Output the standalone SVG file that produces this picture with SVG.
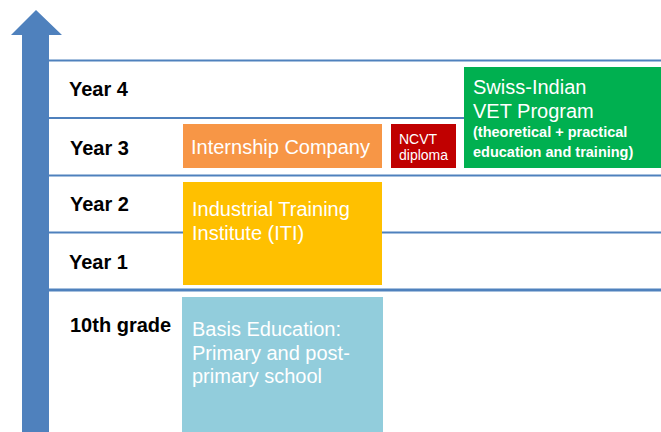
<svg xmlns="http://www.w3.org/2000/svg" width="661" height="432" viewBox="0 0 661 432">
<style>
.grid{stroke:#4F81BD;stroke-width:2;fill:none}
.lbl{font-family:"Liberation Sans",Arial,sans-serif;font-weight:bold;font-size:20px;fill:#000}
.bt{font-family:"Liberation Sans",Arial,sans-serif;font-size:20px;fill:#FFFFFF}
.sm{font-family:"Liberation Sans",Arial,sans-serif;font-size:14px;fill:#FFFFFF}
.smb{font-family:"Liberation Sans",Arial,sans-serif;font-size:14.5px;font-weight:bold;fill:#FFFFFF}
</style>
<rect width="661" height="432" fill="#FFFFFF"/>
<g id="connectors">
<line class="grid" x1="49" y1="60.5" x2="661" y2="60.5"/>
<line class="grid" x1="49" y1="118" x2="661" y2="118"/>
<line class="grid" x1="49" y1="175.5" x2="661" y2="175.5"/>
<line class="grid" x1="49" y1="232.5" x2="661" y2="232.5"/>
<line class="grid" x1="49" y1="290" x2="661" y2="290" style="stroke-width:3"/>
<polygon points="36,10 62,35 49,35 49,432 22,432 22,35 11,35" fill="#4F81BD"/>
</g>
<g id="labels">
<text class="lbl" x="69" y="96">Year 4</text>
<text class="lbl" x="70" y="155">Year 3</text>
<text class="lbl" x="70" y="211">Year 2</text>
<text class="lbl" x="69" y="269">Year 1</text>
<text class="lbl" x="70" y="332">10th grade</text>
</g>
<g id="internship">
<rect x="183" y="124" width="199" height="44" fill="#F79646"/>
<text class="bt" x="191" y="154">Internship Company</text>
</g>
<g id="ncvt">
<rect x="391" y="124" width="65" height="44" fill="#C00000"/>
<text class="sm" x="399" y="144">NCVT</text>
<text class="sm" x="399" y="160">diploma</text>
</g>
<g id="vet">
<rect x="464" y="67" width="197" height="101" fill="#00B050"/>
<text class="bt" x="473" y="94">Swiss-Indian</text>
<text class="bt" x="473" y="117.5">VET Program</text>
<text class="smb" x="473" y="137">(theoretical + practical</text>
<text class="smb" x="473" y="157">education and training)</text>
</g>
<g id="iti">
<rect x="183" y="182" width="199" height="103" fill="#FFC000"/>
<text class="bt" x="192" y="215.5">Industrial Training</text>
<text class="bt" x="192" y="240">Institute (ITI)</text>
</g>
<g id="basis">
<rect x="182" y="297" width="201" height="135" fill="#92CDDC"/>
<text class="bt" x="192" y="335.5">Basis Education:</text>
<text class="bt" x="192" y="360">Primary and post-</text>
<text class="bt" x="192" y="383">primary school</text>
</g>
</svg>
